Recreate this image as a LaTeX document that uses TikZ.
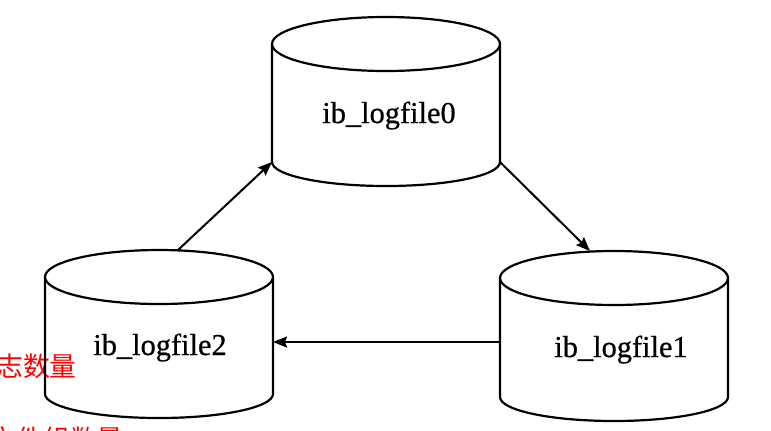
\documentclass[tikz,border=0pt]{standalone}
\usepackage{fontspec}
\setmainfont{Liberation Serif}
\newfontfamily\lblfont[FakeBold=0.6]{Liberation Serif}
\newfontfamily\cjk{Noto Sans CJK SC}
\usetikzlibrary{arrows.meta}
\newcommand\drawcyl[4]{%
  \pgfmathsetmacro\cxL{#2-114}%
  \pgfmathsetmacro\cxR{#2+114}%
  \pgfmathsetmacro\cyB{#4+24}%
  \coordinate (#1-tl) at (\cxL,#3);
  \coordinate (#1-tr) at (\cxR,#3);
  \coordinate (#1-bl) at (\cxL,#4);
  \coordinate (#1-br) at (\cxR,#4);
  \coordinate (#1-bm) at (#2,\cyB);
  \draw[cylline] (#1-tl) -- (#1-bl) .. controls +(0,13.3) and +(-63,0) .. (#1-bm)
     .. controls +(63,0) and +(0,13.3) .. (#1-br) -- (#1-tr);
  \draw[cylline] (#2,#3) ellipse [x radius=114bp, y radius=27bp];
}
\begin{document}
\begin{tikzpicture}[x=1bp,y=-1bp,
  cylline/.style={line width=2.2bp, line join=round},
  conn/.style={line width=2bp, -{Stealth[length=14bp,width=11bp,inset=2bp]}},
  lbl/.style={font=\lblfont\fontsize{30.5}{32}\selectfont, inner sep=0, anchor=base},
  redtxt/.style={font=\cjk\fontsize{27}{28}\selectfont, text=red, inner sep=0, anchor=east}]
\useasboundingbox (0,0) rectangle (771,430);
\clip (0,0) rectangle (771,430);
\fill[white] (0,0) rectangle (771,430);

% red note fragments at the left edge (cut off as in the reference)
\node[redtxt] (n1) at (77,366) {日志数量};
\node[redtxt] (n2) at (124,439) {文件组数量};

% cylinders
\drawcyl{c0}{386}{44}{162}
\drawcyl{c2}{159}{277}{394}
\drawcyl{c1}{614}{278}{397}

% labels
\node[lbl] (l0) at (389,123) {ib\_logfile0};
\node[lbl] (l2) at (160,355) {ib\_logfile2};
\node[lbl] (l1) at (621,357) {ib\_logfile1};

% connector end points on the cylinders
\coordinate (c2-a) at (178,250);
\coordinate (c1-a) at (590,251);
\coordinate (c1-w) at (500,342);
\coordinate (c2-e) at (273,342);

\draw[conn] (c2-a) -- (c0-bl);
\draw[conn] (c0-br) -- (c1-a);
\draw[conn] (c1-w) -- (c2-e);
\end{tikzpicture}
\end{document}
